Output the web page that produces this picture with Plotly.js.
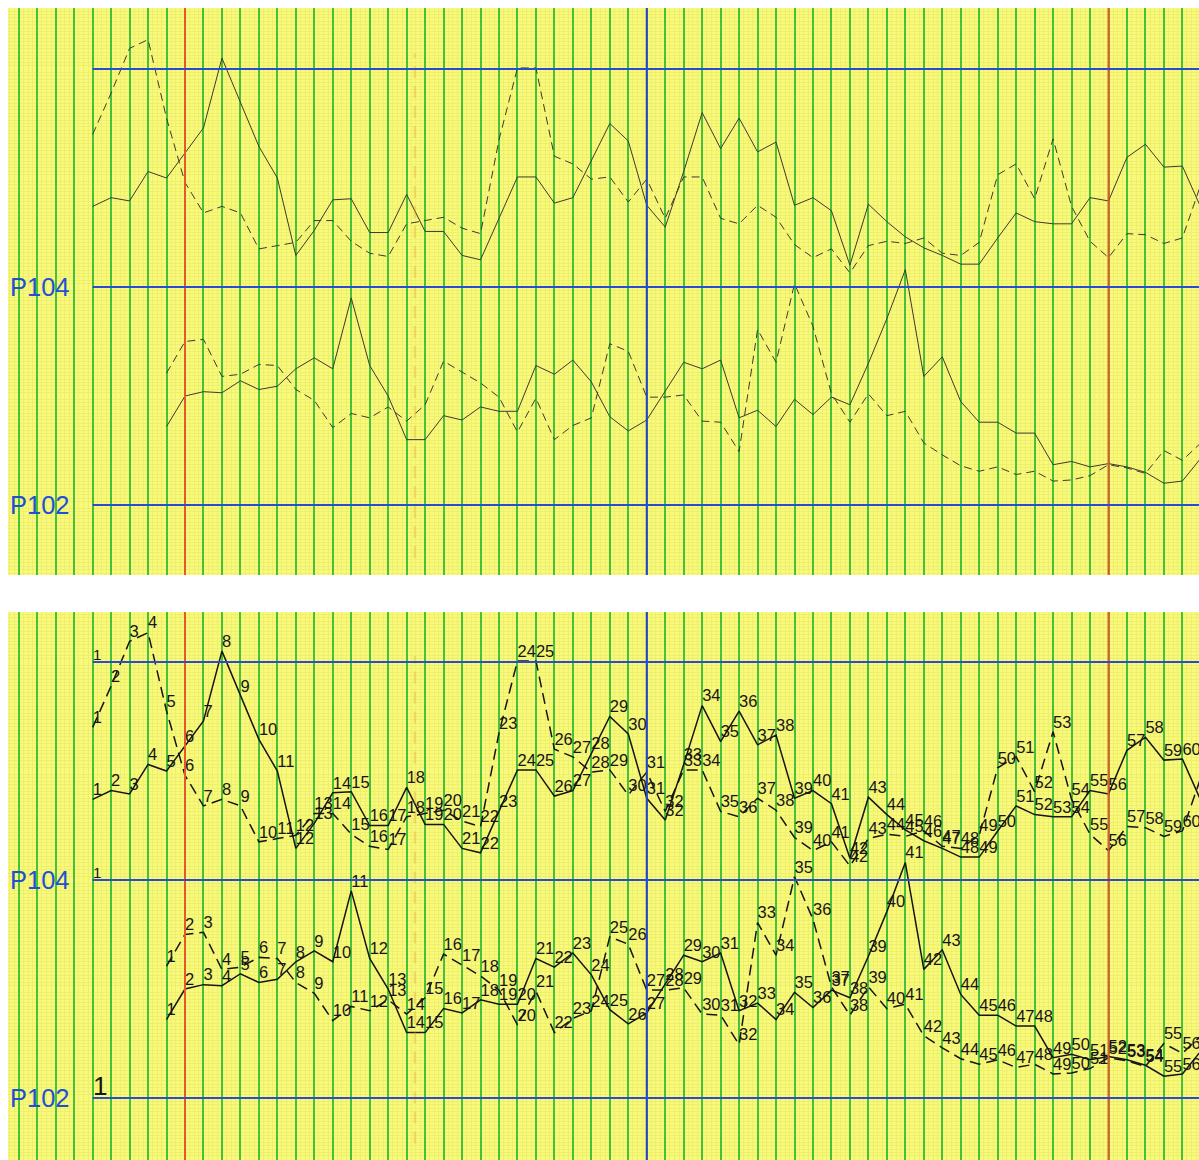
<!DOCTYPE html>
<html><head><meta charset="utf-8">
<script src="https://cdn.plot.ly/plotly-3.0.1.min.js"></script>
<style>html,body{margin:0;padding:0;background:#fff;}#chart{width:1199px;height:1160px;}</style>
</head><body><div id="chart"></div>
<script>
// Session numbers (x categories)
const upperPeriods = [1,2,3,4,5,6,7,8,9,10,11,12,13,14,15,16,17,18,19,20,21,22,23,24,25,26,27,28,29,30,
  31,32,33,34,35,36,37,38,39,40,41,42,43,44,45,46,47,48,49,50,51,52,53,54,55,56,57,58,59,60,61];
const lowerPeriods = [1,2,3,4,5,6,7,8,9,10,11,12,13,14,15,16,17,18,19,20,21,22,23,24,25,26,27,28,29,30,
  31,32,33,34,35,36,37,38,39,40,41,42,43,44,45,46,47,48,49,50,51,52,53,54,55,56,57];

// Upper pair (around P104-P106)
const upperDashed = [105.40,105.78,106.19,106.27,105.55,104.96,104.68,104.74,104.68,104.35,
 104.38,104.41,104.61,104.61,104.42,104.31,104.28,104.58,104.61,104.64,
 104.54,104.49,105.35,106.01,106.01,105.20,105.13,104.99,105.01,104.78,
 104.99,104.63,105.01,105.01,104.63,104.58,104.75,104.64,104.39,104.27,
 104.35,104.13,104.38,104.42,104.40,104.45,104.31,104.29,104.41,105.03,
 105.13,104.81,105.36,104.74,104.42,104.27,104.49,104.48,104.40,104.45,
 104.94];
const upperSolid = [104.74,104.82,104.79,105.06,105.00,105.23,105.46,106.10,105.69,105.29,
 105.00,104.29,104.52,104.80,104.81,104.50,104.50,104.85,104.51,104.51,
 104.29,104.25,104.63,105.01,105.01,104.77,104.82,105.16,105.50,105.34,
 104.75,104.55,105.06,105.60,105.27,105.55,105.24,105.33,104.75,104.82,
 104.70,104.20,104.76,104.60,104.46,104.36,104.29,104.21,104.21,104.45,
 104.68,104.60,104.58,104.58,104.82,104.79,105.19,105.31,105.10,105.11,
 104.73];

// Lower pair (around P102-P104)
const lowerDashed = [103.21,103.50,103.52,103.18,103.20,103.29,103.28,103.06,102.96,102.71,
 102.84,102.80,102.90,102.77,102.92,103.32,103.22,103.12,102.99,102.67,
 102.98,102.60,102.73,102.80,103.48,103.41,102.99,102.99,103.01,102.77,
 102.76,102.49,103.61,103.31,104.03,103.64,103.02,102.76,103.02,102.82,
 102.86,102.57,102.46,102.36,102.31,102.35,102.28,102.31,102.22,102.23,
 102.27,102.37,102.34,102.29,102.50,102.41,102.57];
const lowerSolid = [102.72,103.00,103.04,103.03,103.14,103.06,103.09,103.25,103.35,103.25,
 103.90,103.28,103.00,102.60,102.60,102.82,102.78,102.90,102.86,102.86,
 103.28,103.20,103.33,103.13,102.81,102.68,102.78,103.04,103.31,103.25,
 103.33,102.80,102.87,102.72,102.97,102.83,102.99,102.92,103.30,103.71,
 104.16,103.18,103.36,102.95,102.76,102.76,102.66,102.66,102.37,102.40,
 102.35,102.38,102.35,102.30,102.20,102.22,102.43];

const priceLevels = [102, 104, 106];
const levelLabels = ['P102', 'P104'];

// layout constants
const LOWER_SHIFT = 4;
const redSessions = [6, 56];
const blueSessions = [31];

const ux = upperPeriods;
const lx = lowerPeriods.map(n => n + LOWER_SHIFT);

const topLine = {color:'#3b3b30', width:1};
const botLine = {color:'#151515', width:1.5};
const labelFont = {family:'Liberation Sans, Arial, sans-serif', size:16.5, color:'#151515'};

function tr(x, y, ax, line, dashed, labels){
  const t = {type:'scatter', x:x, y:y, yaxis:ax, xaxis:'x', hoverinfo:'skip',
    line:Object.assign({}, line, {dash: dashed ? (ax==='y' ? '8px,5px' : '11px,6px') : 'solid'}),
    mode:'lines'};
  if(labels){ t.mode='lines+text'; t.text=labels; t.textposition='top right'; t.textfont=labelFont; }
  return t;
}
const uLab = upperPeriods.map(String);
const lLab = lowerPeriods.map(String);

const data = [
  tr(ux, upperDashed, 'y', topLine, true),
  tr(ux, upperSolid, 'y', topLine, false),
  tr(lx, lowerDashed, 'y', topLine, true),
  tr(lx, lowerSolid, 'y', topLine, false),
  tr(ux, upperDashed, 'y2', botLine, true, uLab),
  tr(ux, upperSolid, 'y2', botLine, false, uLab),
  tr(lx, lowerDashed, 'y2', botLine, true, lLab),
  tr(lx, lowerSolid, 'y2', botLine, false, lLab)
];

const YELLOW = '#f9f97c';
const FINE = '#eeef6c';
const shapes = [];
['y','y2'].forEach(ax => {
  shapes.push({type:'rect', xref:'x domain', yref:ax+' domain', x0:0, x1:1, y0:0, y1:1,
    fillcolor:YELLOW, line:{width:0}, layer:'below'});
});
['y','y2'].forEach(ax => {
  shapes.push({type:'line', xref:'x', yref:ax+' domain', x0:18.45, x1:18.45, y0:0.03, y1:0.92,
    line:{color:'rgba(235,150,40,0.28)', width:2.5, dash:'12px,8px'}, layer:'above'});
  redSessions.forEach(s => shapes.push({type:'line', xref:'x', yref:ax+' domain', x0:s, x1:s, y0:0, y1:1,
    line:{color:'#e9552c', width:2}, layer:'above'}));
  blueSessions.forEach(s => shapes.push({type:'line', xref:'x', yref:ax+' domain', x0:s, x1:s, y0:0, y1:1,
    line:{color:'#2b3fd0', width:2}, layer:'above'}));
  priceLevels.forEach(p => shapes.push({type:'line', xref:'x', yref:ax, x0:1, x1:62, y0:p, y1:p,
    line:{color:'#2a4cd0', width:2}, layer:'above'}));
});

const pFont = {family:'Liberation Sans, Arial, sans-serif', size:25.5, color:'#1f4fd6'};
const annotations = [];
['y','y2'].forEach(ax => {
  levelLabels.forEach((lab, i) => annotations.push({xref:'paper', yref:ax, x:0.0, y:priceLevels[i],
    xanchor:'left', yanchor:'middle', text:lab, showarrow:false, font:pFont}));
});
annotations.push({xref:'x', yref:'y2', x:1.25, y:106.07, text:'1', showarrow:false,
  font:{family:'Liberation Sans, Arial, sans-serif', size:15, color:'#151515'}});
annotations.push({xref:'x', yref:'y2', x:1.25, y:104.07, text:'1', showarrow:false,
  font:{family:'Liberation Sans, Arial, sans-serif', size:15, color:'#151515'}});
annotations.push({xref:'x', yref:'y2', x:1.4, y:102.11, text:'1', showarrow:false,
  font:{family:'Liberation Sans, Arial, sans-serif', size:26, color:'#151515'}});

const yBase = {showgrid:false, showticklabels:false, zeroline:false, ticks:'', showline:false,
  tickmode:'linear', tick0:0, dtick:1,
  minor:{tick0:0, dtick:0.03125, showgrid:true, gridcolor:FINE, gridwidth:1, ticks:''}};

const layout = {
  width:1199, height:1160, margin:{l:8, r:0, t:8, b:0},
  paper_bgcolor:'#ffffff', plot_bgcolor:'rgba(0,0,0,0)', showlegend:false,
  xaxis:{range:[-3.583, 60.9], tickmode:'linear', tick0:0, dtick:1, showgrid:true,
    gridcolor:'#46c23a', gridwidth:2, showticklabels:false, ticks:'', zeroline:false,
    showline:false, anchor:'y2',
    minor:{dtick:0.25, showgrid:true, gridcolor:FINE, gridwidth:1, ticks:''}},
  yaxis:Object.assign({}, yBase, {domain:[0.5078, 1], range:[101.358, 106.560]}),
  yaxis2:Object.assign({}, yBase, {domain:[0, 0.4757], range:[101.431, 106.459]}),
  shapes:shapes, annotations:annotations
};

Plotly.newPlot('chart', data, layout, {staticPlot:true, displayModeBar:false});
</script></body></html>
